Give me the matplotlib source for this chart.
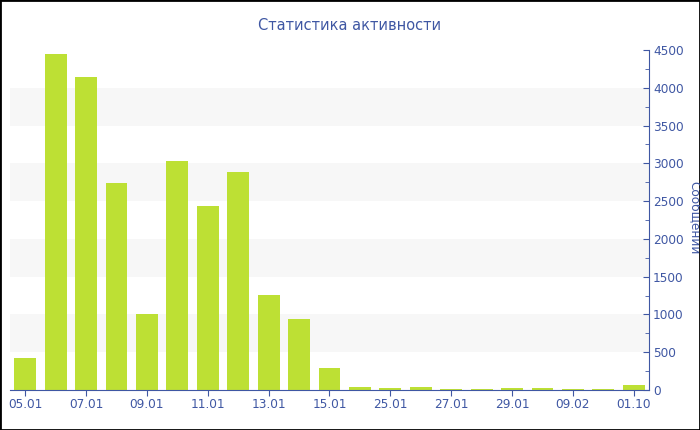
import matplotlib
matplotlib.use("Agg")
import matplotlib.pyplot as plt
from matplotlib.patches import Rectangle
from matplotlib.ticker import MultipleLocator

dates = ["05.01", "06.01", "07.01", "08.01", "09.01", "10.01", "11.01", "12.01",
         "13.01", "14.01", "15.01", "16.01", "25.01", "26.01", "27.01", "28.01",
         "29.01", "31.01", "09.02", "10.02", "01.10"]
messages = [420, 4450, 4140, 2740, 1005, 3030, 2435, 2885, 1257, 940, 290,
            40, 30, 40, 15, 15, 30, 20, 15, 10, 70]
title = "Статистика активности"
ylabel = "Сообщений"

blue = "#3f57a3"
fig = plt.figure(figsize=(7, 4.3), dpi=100)
ax = fig.add_axes([10/700, 1 - 390/430, 639/700, 340/430])

for lo in (500, 1500, 2500, 3500):
    ax.axhspan(lo, lo + 500, color="#f7f7f7", zorder=0, lw=0)

x = list(range(len(dates)))
ax.bar(x, messages, width=0.72, color="#bde034", zorder=2)

ax.set_xlim(-0.5, len(dates) - 0.5)
ax.set_ylim(0, 4500)
ax.set_xticks(x[::2])
ax.set_xticklabels(dates[::2])

for s in ("left", "top"):
    ax.spines[s].set_visible(False)
ax.spines["right"].set_color(blue)
ax.spines["bottom"].set_color(blue)
ax.yaxis.tick_right()
ax.yaxis.set_major_locator(MultipleLocator(500))
ax.yaxis.set_minor_locator(MultipleLocator(250))
ax.tick_params(axis="y", which="major", direction="in", length=4, color=blue,
               labelcolor=blue, labelsize=8.7, pad=3)
ax.tick_params(axis="y", which="minor", direction="in", length=3, color=blue)
ax.tick_params(axis="x", direction="out", length=4, color=blue,
               labelcolor=blue, labelsize=8.7, pad=2)
ax.set_facecolor("white")

fig.text(0.5, 1 - 25/430, title, ha="center", va="center", color=blue, fontsize=10.5)
fig.text(0.992, 1 - 218/430, ylabel, ha="center", va="center", rotation=270,
         color=blue, fontsize=8.7)

fig.patches.append(Rectangle((0, 0), 1, 1, transform=fig.transFigure, fill=False,
                             edgecolor="black", lw=2))
fig.savefig("out.png", dpi=100)
